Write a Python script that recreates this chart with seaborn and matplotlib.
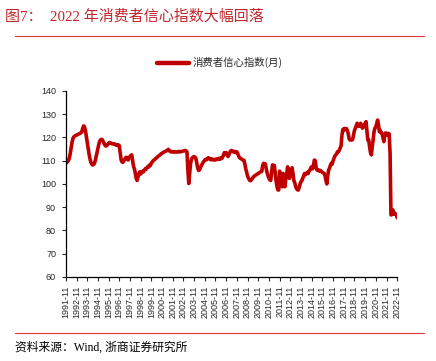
import pandas as pd
import matplotlib
matplotlib.use("Agg")
import matplotlib.pyplot as plt
import seaborn as sns

# monthly consumer confidence index, one row per year starting in November
start_month = "1991-11"
cci_1991 = [108.9, 109.2, 109.6, 110.2, 111.3, 113.2, 115.6, 118.0, 119.6, 120.3, 120.6, 120.9]
cci_1992 = [121.0, 121.2, 121.4, 121.6, 121.8, 122.0, 122.5, 124.0, 125.0, 124.5, 123.0, 120.5]
cci_1993 = [118.0, 115.5, 113.0, 111.0, 109.5, 108.6, 108.2, 108.3, 108.8, 110.0, 111.8, 113.8]
cci_1994 = [115.5, 117.0, 118.3, 119.0, 119.2, 119.0, 118.2, 117.3, 116.6, 116.3, 116.5, 117.0]
cci_1995 = [117.5, 117.8, 117.7, 117.5, 117.3, 117.2, 117.3, 117.1, 116.8, 116.9, 116.6, 116.8]
cci_1996 = [116.5, 113.5, 110.5, 109.5, 109.3, 109.8, 110.5, 111.2, 111.5, 110.8, 110.3, 111.2]
cci_1997 = [111.8, 112.3, 112.5, 110.0, 107.5, 106.5, 104.5, 102.5, 101.5, 103.0, 104.5, 105.2]
cci_1998 = [104.3, 105.0, 105.5, 105.2, 105.8, 106.5, 106.3, 107.0, 107.5, 107.3, 108.2, 108.0]
cci_1999 = [109.0, 109.5, 110.0, 110.3, 110.6, 111.0, 111.3, 111.7, 112.0, 112.3, 112.6, 113.0]
cci_2000 = [113.2, 113.5, 113.7, 113.9, 114.0, 114.3, 114.5, 114.9, 114.5, 114.0, 113.8, 113.9]
cci_2001 = [113.8, 113.7, 113.9, 113.8, 113.7, 113.8, 113.9, 114.0, 113.8, 113.9, 114.0, 114.1]
cci_2002 = [114.2, 114.3, 114.4, 114.2, 113.8, 106.0, 100.2, 104.5, 108.8, 110.5, 111.3, 111.6]
cci_2003 = [111.8, 111.5, 111.0, 109.0, 107.0, 105.8, 106.0, 107.0, 107.8, 108.5, 109.2, 109.8]
cci_2004 = [110.3, 110.6, 110.4, 110.9, 111.3, 111.0, 110.6, 110.4, 110.8, 110.5, 110.3, 110.6]
cci_2005 = [110.4, 110.7, 110.5, 110.8, 111.0, 110.6, 111.2, 111.0, 111.5, 112.5, 113.5, 112.8]
cci_2006 = [113.5, 112.6, 111.8, 112.5, 113.5, 114.2, 114.4, 114.2, 113.8, 114.0, 113.8, 113.5]
cci_2007 = [113.8, 113.0, 112.0, 111.3, 111.0, 110.8, 110.5, 110.3, 110.2, 108.5, 106.5, 105.0]
cci_2008 = [103.5, 102.5, 101.8, 101.4, 101.6, 102.2, 102.7, 103.2, 103.5, 103.8, 104.0, 104.3]
cci_2009 = [104.5, 104.8, 105.0, 105.3, 105.5, 108.0, 108.9, 108.4, 108.6, 106.5, 104.8, 103.5]
cci_2010 = [102.5, 101.8, 101.5, 105.0, 108.2, 107.8, 108.0, 105.0, 101.5, 99.0, 97.5, 97.4]
cci_2011 = [105.5, 103.0, 100.0, 98.8, 104.5, 101.0, 98.8, 102.5, 104.5, 107.4, 105.5, 102.4]
cci_2012 = [104.5, 105.5, 107.0, 104.5, 101.5, 100.5, 99.0, 98.0, 97.5, 97.4, 98.5, 100.0]
cci_2013 = [101.0, 101.5, 102.5, 103.5, 104.5, 104.0, 104.5, 105.0, 104.5, 105.5, 106.0, 107.0]
cci_2014 = [107.4, 106.5, 108.0, 110.3, 110.0, 107.0, 106.0, 105.8, 106.0, 105.5, 105.8, 105.3]
cci_2015 = [105.0, 104.8, 104.5, 103.5, 101.5, 100.0, 103.5, 106.0, 106.8, 108.0, 108.9, 108.5]
cci_2016 = [110.0, 111.0, 112.0, 112.5, 113.0, 113.9, 113.9, 114.5, 115.5, 116.5, 121.0, 123.5]
cci_2017 = [123.2, 123.9, 123.5, 123.8, 123.0, 121.8, 119.5, 118.9, 119.0, 118.9, 119.2, 121.0]
cci_2018 = [123.0, 123.9, 125.0, 126.1, 125.5, 124.8, 125.3, 126.1, 125.0, 124.0, 124.5, 125.5]
cci_2019 = [126.0, 126.8, 123.0, 118.9, 119.0, 116.0, 113.5, 112.5, 116.0, 119.0, 122.5, 124.0]
cci_2020 = [124.5, 126.0, 127.5, 125.5, 122.5, 123.0, 122.0, 121.8, 120.0, 118.2, 121.0, 122.0]
cci_2021 = [121.5, 121.0, 121.8, 121.5, 113.2, 86.7, 86.8, 88.9, 87.9, 87.0, 87.2, 86.8]
cci_2022 = [85.5]

series_name = "消费者信心指数(月)"
title = "图7：  2022 年消费者信心指数大幅回落"
source = "资料来源：Wind, 浙商证券研究所"
y_ticks = [60, 70, 80, 90, 100, 110, 120, 130, 140]

values = (cci_1991 + cci_1992 + cci_1993 + cci_1994 + cci_1995 + cci_1996 + cci_1997
          + cci_1998 + cci_1999 + cci_2000 + cci_2001 + cci_2002 + cci_2003 + cci_2004
          + cci_2005 + cci_2006 + cci_2007 + cci_2008 + cci_2009 + cci_2010 + cci_2011
          + cci_2012 + cci_2013 + cci_2014 + cci_2015 + cci_2016 + cci_2017 + cci_2018
          + cci_2019 + cci_2020 + cci_2021 + cci_2022)
months = pd.period_range(start_month, periods=len(values), freq="M").strftime("%Y-%m")
df = pd.DataFrame({"pos": range(len(values)), "month": months, series_name: values})

sns.set_style("white")
plt.rcParams["font.family"] = ["Liberation Sans", "Noto Sans CJK SC"]

red = "#C00000"
fig = plt.figure(figsize=(4.36, 3.61), dpi=100)
ax = fig.add_axes([0.151, 0.2327, 0.760, 0.5153])

sns.lineplot(data=df, x="pos", y=series_name, color=red, linewidth=2.6,
             label=series_name, ax=ax)

tick_pos = df["pos"][::12]
ax.set_xticks(tick_pos)
ax.set_xticklabels(df["month"][::12], rotation=90, fontsize=6.5)
ax.set_xlim(0, len(values) - 1)
ax.set_ylim(60, 140)
ax.set_yticks(y_ticks)
ax.tick_params(axis="y", labelsize=6.5, length=3, width=0.8, direction="out", left=True, pad=4)
ax.tick_params(axis="x", length=3, width=0.8, direction="out", bottom=True, pad=3)
ax.set_xlabel("")
ax.set_ylabel("")
sns.despine(ax=ax)
for s in ["left", "bottom"]:
    ax.spines[s].set_color("black")
    ax.spines[s].set_linewidth(0.9)

leg = ax.legend(loc="center", bbox_to_anchor=(0.505, 0.826), bbox_transform=fig.transFigure,
                frameon=False, handlelength=3.0, handletextpad=0.4,
                prop={"family": ["Noto Sans CJK SC"], "size": 7.5})
for line in leg.get_lines():
    line.set_linewidth(3.2)

fig.text(0.012, 0.953, title, color="#C0272D", fontsize=10.8, va="center",
         family=["Liberation Serif", "Noto Sans CJK SC"])
fig.add_artist(plt.Line2D([0.034, 0.973], [0.9, 0.9], color="#D9393B", linewidth=0.8))
fig.add_artist(plt.Line2D([0.034, 0.973], [0.077, 0.077], color="#D9393B", linewidth=0.8))
fig.text(0.034, 0.036, source, color="black", fontsize=8.5, va="center",
         family=["Liberation Serif", "Noto Sans CJK SC"])

fig.savefig("out.png", dpi=100)
